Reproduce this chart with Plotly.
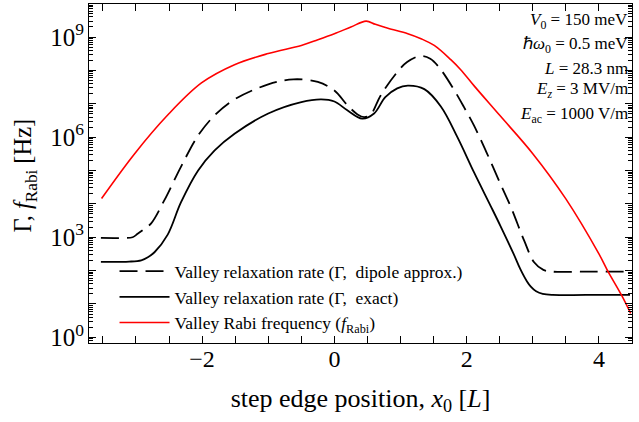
import plotly.graph_objects as go

# ---------------- data ----------------
x_dipole = [-3.53, -3.2, -3.05, -2.97, -2.87, -2.77, -2.57, -2.32, -2.06, -1.81, -1.51,
            -1.0, -0.62, -0.25, 0.0, 0.2, 0.35, 0.45, 0.55, 0.7, 0.95, 1.1, 1.3, 1.45,
            1.61, 1.81, 1.96, 2.11, 2.3, 2.51, 2.67, 2.87, 3.02, 3.16, 3.3, 3.8, 4.47]
gamma_dipole = [950, 950, 1.0e3, 1.29e3, 1.8e3, 2.6e3, 1.29e4, 1.29e5, 1.12e6, 4.5e6, 1.35e7,
                3.8e7, 5.4e7, 4.5e7, 2.5e7, 8.9e6, 4.8e6, 4.0e6, 4.8e6, 1.78e7, 8.9e7,
                1.78e8, 2.7e8, 2.24e8, 1.05e8, 2.6e7, 7.9e6, 2.24e6, 3.5e5, 4.0e4, 7.9e3,
                7.9e2, 1.78e2, 1.05e2, 93, 93, 93]

x_exact = [-3.53, -3.1, -2.92, -2.82, -2.72, -2.52, -2.32, -2.06, -1.81, -1.51, -1.0,
           -0.5, -0.2, 0.0, 0.19, 0.42, 0.6, 0.77, 0.95, 1.11, 1.36, 1.61, 1.86, 2.11, 2.36,
           2.51, 2.71, 2.81, 2.91, 2.97, 3.05, 3.15, 3.3, 3.8, 4.47]
gamma_exact = [182, 186, 204, 251, 355, 1.2e3, 1.1e4, 1.0e5, 4.0e5, 1.26e6, 5.1e6,
               1.12e7, 1.35e7, 1.17e7, 6.5e6, 3.6e6, 5.1e6, 1.58e7, 2.9e7, 3.5e7, 2.75e7,
               8.3e6, 1.0e6, 8.9e4, 8.9e3, 2.2e3, 316, 112, 48, 33, 24, 20, 18.6, 18.6, 18.6]

x_rabi = [-3.52, -3.02, -2.52, -2.01, -1.51, -1.0, -0.5, -0.25, 0.0, 0.25, 0.48, 0.62, 0.81,
          1.11, 1.31, 1.51, 1.76, 1.91, 2.11, 2.5, 3.0, 3.5, 4.0, 4.13, 4.34, 4.48]
f_rabi = [1.45e4, 3.2e5, 4.6e6, 4.2e7, 1.48e8, 3.2e8, 5.6e8, 8.3e8, 1.26e9, 2.0e9, 3.0e9,
          2.4e9, 1.82e9, 1.26e9, 8.9e8, 5.6e8, 2.1e8, 1.05e8, 3.5e7, 4.5e6, 3.2e5, 1.41e4,
          316, 100, 18.6, 5.2]

legend_names = ["Valley relaxation rate (Γ,  dipole approx.)",
                "Valley relaxation rate (Γ,  exact)",
                "Valley Rabi frequency (<i>f</i><sub>Rabi</sub>)"]

param_lines = ["<i>V</i><sub>0</sub> = 150 meV",
               "ℏ<i>ω</i><sub>0</sub> = 0.5 meV",
               "<i>L</i> = 28.3 nm",
               "<i>E</i><sub><i>z</i></sub> = 3 MV/m",
               "<i>E</i><sub>ac</sub> = 1000 V/m"]

y_title = "Γ, <i>f</i><sub>Rabi</sub> [Hz]"
x_title = "step edge position, <i>x</i><sub>0</sub> [<i>L</i>]"

x_tickvals = [-2, 0, 2, 4]
x_ticktext = ["−2", "0", "2", "4"]
y_decades = [1e0, 1e1, 1e2, 1e3, 1e4, 1e5, 1e6, 1e7, 1e8, 1e9]
y_label_vals = [1e0, 1e3, 1e6, 1e9]
y_label_text = ["10<sup>0</sup>", "10<sup>3</sup>", "10<sup>6</sup>", "10<sup>9</sup>"]
y_minor = [m * d for d in [1e-1, 1e0, 1e1, 1e2, 1e3, 1e4, 1e5, 1e6, 1e7, 1e8, 1e9]
           for m in range(2, 10)]

FONT = "Liberation Serif"
Y_RANGE = [-0.17, 9.99]

fig = go.Figure()
fig.add_trace(go.Scatter(x=x_dipole, y=gamma_dipole, mode="lines", name=legend_names[0],
                         legendgroup="a",
                         line=dict(color="black", width=1.8, dash="18px,8px", shape="spline",
                                   smoothing=1.0)))
fig.add_trace(go.Scatter(x=x_exact, y=gamma_exact, mode="lines", name=legend_names[1],
                         legendgroup="b",
                         line=dict(color="black", width=1.8, shape="spline", smoothing=1.0)))
fig.add_trace(go.Scatter(x=x_rabi, y=f_rabi, mode="lines", name=legend_names[2],
                         legendgroup="c", yaxis="y2",
                         line=dict(color="#ff0000", width=1.6, shape="spline", smoothing=1.0)))

ys = [0.949, 0.880, 0.811, 0.745, 0.674]
for txt, yy in zip(param_lines, ys):
    fig.add_annotation(text=txt, xref="paper", yref="paper", x=1, y=yy, xanchor="right",
                       yanchor="middle", xshift=-2, showarrow=False,
                       font=dict(family=FONT, size=17, color="black"))

# y-axis title
fig.add_annotation(text=y_title, xref="paper", yref="paper", x=-0.118, y=0.494,
                   xanchor="center", yanchor="middle", textangle=-90, showarrow=False,
                   font=dict(family=FONT, size=24.5, color="black"))

fig.update_layout(
    width=639, height=422,
    margin=dict(l=89, r=7, t=4, b=79),
    plot_bgcolor="white", paper_bgcolor="white",
    font=dict(family=FONT, color="black"),
    showlegend=True,
    legend=dict(x=0.047, y=0.265, xanchor="left", yanchor="top", bgcolor="rgba(0,0,0,0)",
                font=dict(family=FONT, size=17.5), tracegroupgap=0, traceorder="grouped",
                itemwidth=50),
    xaxis=dict(range=[-3.71, 4.5], tickmode="array", tickvals=x_tickvals, ticktext=x_ticktext,
               ticks="inside", ticklen=7, tickwidth=1.2, tickcolor="black",
               minor=dict(dtick=0.5, tick0=0, ticks="inside", ticklen=4, tickwidth=1,
                          tickcolor="black"),
               showline=True, linecolor="black", linewidth=1.3, mirror="allticks",
               showgrid=False, zeroline=False, ticklabelstandoff=-6,
               tickfont=dict(family=FONT, size=24),
               title=dict(text=x_title, font=dict(family=FONT, size=26), standoff=17)),
    yaxis=dict(type="log", range=Y_RANGE, tickmode="array", tickvals=y_decades,
               showticklabels=False, ticks="inside", ticklen=7, tickwidth=1.2,
               tickcolor="black",
               minor=dict(tickmode="array", tickvals=y_minor, ticks="inside", ticklen=4,
                          tickwidth=1, tickcolor="black"),
               showline=True, linecolor="black", linewidth=1.3, mirror="allticks",
               showgrid=False, zeroline=False),
    yaxis2=dict(type="log", range=Y_RANGE, overlaying="y", side="left", tickmode="array",
                tickvals=y_label_vals, ticktext=y_label_text, ticks="", showline=False,
                showgrid=False, zeroline=False, ticklabelstandoff=4,
                tickfont=dict(family=FONT, size=25)),
)

fig.write_html("out.html", config={"displayModeBar": False},
               post_script="document.body.style.margin='0px';")
